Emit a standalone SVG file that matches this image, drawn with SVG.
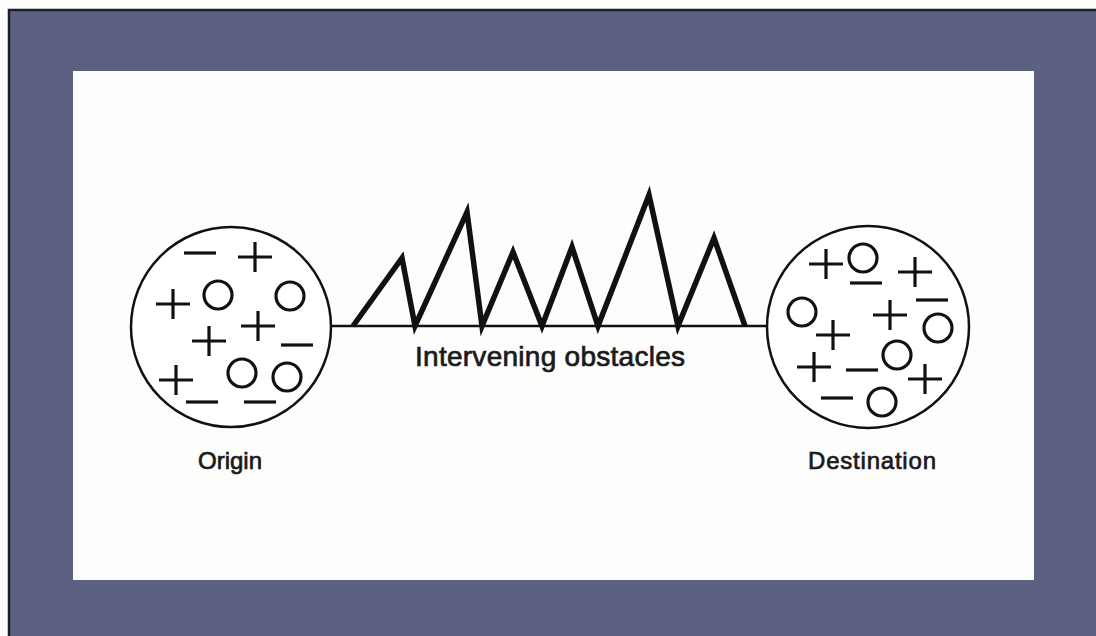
<svg xmlns="http://www.w3.org/2000/svg" width="1096" height="636" viewBox="0 0 1096 636">
<style>
.sym{stroke:#111;stroke-width:3.2;fill:none;stroke-linecap:butt}
.ring{stroke:#111;stroke-width:2.5;fill:#fff}
.lbl{font-family:"Liberation Sans",Arial,sans-serif;fill:#1a1a1a;stroke:#1a1a1a;stroke-width:0.7}
</style>
<defs>
<g id="plus"><path class="sym" d="M-17 0H17M0 -15V15"/></g>
<g id="minus"><path class="sym" d="M-16 0H16"/></g>
<g id="oh"><circle class="sym" r="14"/></g>
</defs>
<rect x="0" y="0" width="1096" height="636" fill="#fdfdfd"/>
<g id="frame">
<rect x="9" y="10" width="1087" height="626" fill="#5c6181"/>
<path d="M9 636V10H1096" stroke="#1c1e2c" stroke-width="2.5" fill="none"/>
<rect x="73" y="71" width="961" height="509" fill="#fdfdfb"/>
</g>
<g id="connectors">
<line x1="331" y1="326" x2="767" y2="326" stroke="#111" stroke-width="2.5"/>
<polyline points="353,326 402,258 415,326 467,212 482,326 513,252 542,326 572,247 598,326 649,195 678,326 714,238 745,326" fill="none" stroke="#111" stroke-width="5.5" stroke-linejoin="miter"/>
</g>
<g id="origin">
<circle class="ring" cx="231" cy="327" r="100"/>
<use href="#minus" x="200" y="253"/>
<use href="#plus" x="255" y="257"/>
<use href="#plus" x="173" y="304"/>
<use href="#oh" x="218" y="295"/>
<use href="#oh" x="290" y="296"/>
<use href="#plus" x="258" y="326"/>
<use href="#plus" x="209" y="341"/>
<use href="#minus" x="297" y="345"/>
<use href="#plus" x="176" y="380"/>
<use href="#oh" x="242" y="373"/>
<use href="#oh" x="287" y="377"/>
<use href="#minus" x="202" y="402"/>
<use href="#minus" x="260" y="402"/>
<text class="lbl" x="198" y="469" font-size="24" textLength="64">Origin</text>
</g>
<g id="destination">
<circle class="ring" cx="868" cy="327" r="101"/>
<use href="#plus" x="826" y="264"/>
<use href="#oh" x="863" y="258"/>
<use href="#minus" x="866" y="283"/>
<use href="#plus" x="915" y="272"/>
<use href="#minus" x="932" y="300"/>
<use href="#oh" x="802" y="312"/>
<use href="#plus" x="890" y="315"/>
<use href="#plus" x="833" y="335"/>
<use href="#oh" x="938" y="328"/>
<use href="#oh" x="897" y="355"/>
<use href="#plus" x="814" y="367"/>
<use href="#minus" x="862" y="370"/>
<use href="#plus" x="925" y="379"/>
<use href="#minus" x="837" y="398"/>
<use href="#oh" x="882" y="402"/>
<text class="lbl" x="808" y="469" font-size="24" textLength="128">Destination</text>
</g>
<g id="obstacles-label">
<text class="lbl" x="415" y="366" font-size="28" textLength="270">Intervening obstacles</text>
</g>
</svg>
